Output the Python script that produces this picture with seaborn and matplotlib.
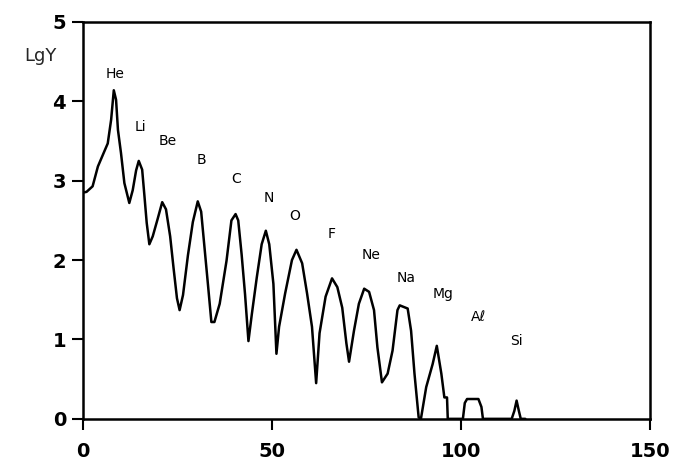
import matplotlib
matplotlib.use("Agg")
import matplotlib.pyplot as plt
import pandas as pd
import seaborn as sns

# spectrum trace (mass number vs lg of yield)
mass = [0.0, 1.0, 2.6, 4.0, 5.7, 6.6, 7.5, 8.2, 8.8, 9.3, 10.1, 11.0, 12.3, 13.2,
        14.1, 14.8, 15.7, 16.3, 16.9, 17.6, 18.5, 19.8, 21.0, 22.0, 23.1, 24.0,
        24.9, 25.6, 26.5, 27.8, 29.1, 30.4, 31.3, 32.2, 33.1, 34.0, 34.8, 36.2,
        38.0, 39.3, 40.4, 41.1, 42.0, 42.9, 43.8, 44.7, 46.0, 47.3, 48.4, 49.3,
        50.4, 51.2, 51.9, 53.5, 55.3, 56.5, 58.0, 59.3, 60.6, 61.7, 62.6, 64.2,
        65.9, 67.3, 68.6, 69.7, 70.4, 71.7, 73.0, 74.4, 75.7, 77.0, 77.9, 79.1,
        80.6, 81.9, 83.2, 83.8, 85.9, 86.8, 87.7, 88.8, 89.4, 90.8, 92.5, 93.6,
        94.8, 95.6, 96.3, 96.5, 100.5, 101.0, 101.6, 104.6, 105.4, 105.8, 113.4,
        114.1, 114.7, 115.3, 115.8, 117.0]
lg_y = [2.85, 2.86, 2.93, 3.18, 3.37, 3.47, 3.77, 4.14, 4.02, 3.64, 3.35, 2.97,
        2.72, 2.88, 3.13, 3.25, 3.14, 2.81, 2.47, 2.20, 2.30, 2.52, 2.73, 2.64,
        2.30, 1.90, 1.52, 1.37, 1.56, 2.06, 2.48, 2.74, 2.61, 2.15, 1.69, 1.22,
        1.22, 1.45, 1.99, 2.50, 2.58, 2.50, 2.07, 1.57, 0.98, 1.32, 1.78, 2.20,
        2.37, 2.20, 1.70, 0.82, 1.16, 1.58, 2.00, 2.13, 1.96, 1.58, 1.16, 0.45,
        1.08, 1.54, 1.77, 1.66, 1.40, 0.95, 0.72, 1.11, 1.45, 1.64, 1.60, 1.37,
        0.90, 0.46, 0.57, 0.86, 1.37, 1.43, 1.39, 1.11, 0.57, 0.02, 0.00, 0.40,
        0.69, 0.92, 0.57, 0.27, 0.27, 0.00, 0.00, 0.20, 0.25, 0.25, 0.15, 0.00,
        0.00, 0.10, 0.23, 0.10, 0.00, 0.00]

elements = ["He", "Li", "Be", "B", "C", "N", "O", "F", "Ne", "Na", "Mg", "Aℓ", "Si"]
label_x = [8.6, 15.2, 22.5, 31.3, 40.6, 49.2, 56.1, 65.9, 76.1, 85.4, 95.2, 104.6, 114.6]
label_y = [4.34, 3.68, 3.50, 3.26, 3.02, 2.78, 2.56, 2.33, 2.06, 1.77, 1.57, 1.28, 0.98]

x_ticks = [0, 50, 100, 150]
y_ticks = [0, 1, 2, 3, 4, 5]

df = pd.DataFrame({"mass": mass, "lgy": lg_y})

sns.set_style("ticks")
fig = plt.figure(figsize=(6.73, 4.68), dpi=100)
ax = fig.add_axes([0.123, 0.105, 0.843, 0.848])

sns.lineplot(data=df, x="mass", y="lgy", sort=False, color="black", linewidth=1.8, ax=ax)

for name, lx, ly in zip(elements, label_x, label_y):
    ax.text(lx, ly, name, ha="center", va="center", fontsize=10, color="black")

ax.set_xlim(0, 150)
ax.set_ylim(0, 5)
ax.set_xticks(x_ticks)
ax.set_yticks(y_ticks)
ax.set_xlabel("")
ax.set_ylabel("")
for lab in ax.get_xticklabels() + ax.get_yticklabels():
    lab.set_fontweight("bold")
    lab.set_fontsize(14)
ax.tick_params(direction="out", length=8, width=1.5, colors="black")
ax.tick_params(axis="x", pad=9)
ax.tick_params(axis="y", pad=4)
for sp in ax.spines.values():
    sp.set_visible(True)
    sp.set_linewidth(1.8)
    sp.set_color("black")

fig.text(0.06, 0.88, "LgY", fontsize=13, ha="center", va="center")

fig.savefig("out.png", dpi=100)
